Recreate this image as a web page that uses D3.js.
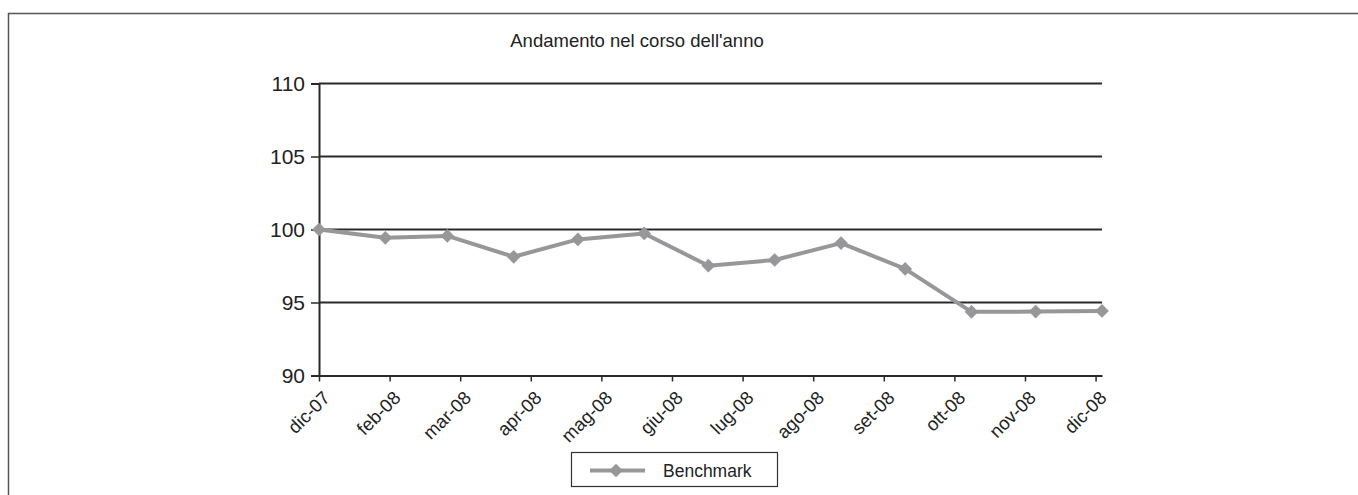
<!DOCTYPE html>
<html><head><meta charset="utf-8">
<script src="https://cdn.jsdelivr.net/npm/d3@7"></script>
<style>body{margin:0;background:#fff;}svg{display:block;font-family:"Liberation Sans",Arial,sans-serif;}</style>
</head><body>
<svg id="c" width="1358" height="495"></svg>
<script>
const dates = ["2007-12-31","2008-01-31","2008-02-29","2008-03-31","2008-04-30","2008-05-31","2008-06-30","2008-07-31","2008-08-31","2008-09-30","2008-10-31","2008-11-30","2008-12-31"];
const benchmark = [100, 99.43, 99.56, 98.13, 99.32, 99.73, 97.52, 97.91, 99.07, 97.3, 94.36, 94.38, 94.42];
const tickLabels = ["dic-07","feb-08","mar-08","apr-08","mag-08","giu-08","lug-08","ago-08","set-08","ott-08","nov-08","dic-08"];
const tickStepDays = 33;
const yTicks = [90, 95, 100, 105, 110];
const seriesName = "Benchmark";
const title = "Andamento nel corso dell'anno";

const parse = d3.utcParse("%Y-%m-%d");
const data = dates.map((d, i) => ({date: parse(d), value: benchmark[i]}));
const svg = d3.select("#c");

svg.append("rect").attr("x", 8.5).attr("y", 13.5).attr("width", 1400).attr("height", 520)
  .attr("fill", "none").attr("stroke", "#555").attr("stroke-width", 1.5);

const x = d3.scaleUtc().domain(d3.extent(data, d => d.date)).range([319, 1102]);
const y = d3.scaleLinear().domain([90, 110]).range([375.5, 83.5]);

const tickDates = tickLabels.map((l, i) => d3.utcDay.offset(data[0].date, i * tickStepDays));

// gridlines
svg.append("g").selectAll("line").data(yTicks.filter(v => v > 90)).join("line")
  .attr("x1", 319).attr("x2", 1102).attr("y1", d => y(d)).attr("y2", d => y(d))
  .attr("stroke", "#2a2a2a").attr("stroke-width", 1.8);

// y axis
const ya = svg.append("g").attr("transform", "translate(319,0)")
  .call(d3.axisLeft(y).tickValues(yTicks).tickSize(8).tickPadding(6).tickFormat(d3.format("d")));
ya.select(".domain").attr("stroke", "#2a2a2a").attr("stroke-width", 2);
ya.selectAll(".tick line").attr("stroke", "#2a2a2a").attr("stroke-width", 1.5);
ya.selectAll("text").attr("font-size", 21).attr("fill", "#222").attr("font-family", "Liberation Sans, Arial, sans-serif");

// x axis
const xa = svg.append("g").attr("transform", "translate(0,375.5)")
  .call(d3.axisBottom(x).tickValues(tickDates).tickSize(6).tickSizeOuter(0)
    .tickFormat((d, i) => tickLabels[i]));
xa.select(".domain").attr("stroke", "#2a2a2a").attr("stroke-width", 2);
xa.selectAll(".tick line").attr("stroke", "#2a2a2a").attr("stroke-width", 1.5);
xa.selectAll("text").attr("font-size", 18.5).attr("fill", "#222")
  .attr("font-family", "Liberation Sans, Arial, sans-serif")
  .attr("x", 0).attr("y", 0)
  .attr("text-anchor", "end").attr("dy", "0.35em")
  .attr("transform", "translate(7,19) rotate(-45)");

// line
const col = "#97979a";
svg.append("path").datum(data)
  .attr("d", d3.line().x(d => x(d.date)).y(d => y(d.value)))
  .attr("fill", "none").attr("stroke", col).attr("stroke-width", 4).attr("stroke-linejoin", "round");
const diamond = d3.symbol().type(d3.symbolDiamond2).size(120);
svg.append("g").selectAll("path").data(data).join("path")
  .attr("transform", d => `translate(${x(d.date)},${y(d.value)})`)
  .attr("d", diamond).attr("fill", col);

// title
svg.append("text").attr("x", 637).attr("y", 47).attr("text-anchor", "middle")
  .attr("font-size", 18.5).attr("fill", "#222").text(title);

// legend
const lg = svg.append("g");
lg.append("rect").attr("x", 571.5).attr("y", 452.5).attr("width", 206).attr("height", 34)
  .attr("fill", "#fff").attr("stroke", "#333").attr("stroke-width", 1.2);
lg.append("line").attr("x1", 590).attr("x2", 645).attr("y1", 470.5).attr("y2", 470.5)
  .attr("stroke", col).attr("stroke-width", 4);
lg.append("path").attr("transform", "translate(616,470.5)").attr("d", diamond).attr("fill", col);
lg.append("text").attr("x", 663).attr("y", 477).attr("font-size", 17.5).attr("fill", "#222").text(seriesName);
</script>
</body></html>
